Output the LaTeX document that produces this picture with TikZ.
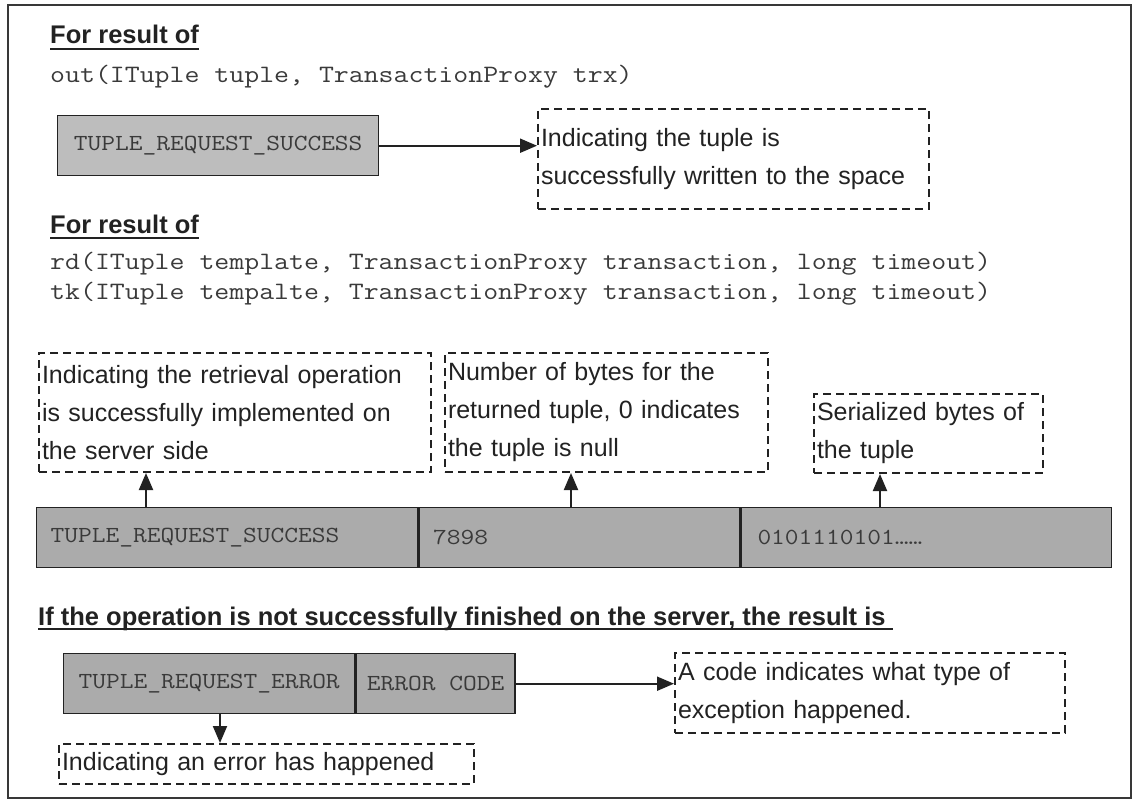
\documentclass[tikz,border=0pt]{standalone}
\usepackage{fontspec}
\setmainfont{Liberation Sans}
\newfontfamily\codefont[FakeStretch=1.16]{Latin Modern Mono}
\usetikzlibrary{arrows.meta}

\definecolor{ink}{HTML}{222222}
\definecolor{cellgray}{HTML}{ABABAB}
\definecolor{lightcell}{HTML}{BDBDBD}
\definecolor{celltext}{HTML}{3A3A3A}

\tikzset{
  head/.style={anchor=base west, inner sep=0pt, text=ink,
    font=\fontsize{25.5}{30}\selectfont\bfseries},
  uline/.style={line width=2.6pt, draw=ink},
  code/.style={anchor=west, inner sep=0pt, text=celltext,
    font=\codefont\fontsize{25}{30}\selectfont},
  cell/.style={draw=ink, line width=1.4pt, fill=cellgray, anchor=north west,
    minimum height=60pt, inner sep=0pt, text=celltext,
    font=\codefont\fontsize{23}{28}\selectfont},
  note/.style={draw=ink, line width=2pt, dash pattern=on 8pt off 5pt,
    anchor=north west, align=left, inner xsep=3pt, inner ysep=0pt, text=ink,
    font=\fontsize{25}{38}\selectfont},
  arr/.style={draw=ink, line width=2pt, -{Triangle[length=17pt,width=14pt]}},
  frame/.style={draw=ink!90, line width=2pt}
}

\begin{document}
\begin{tikzpicture}[x=1pt,y=-1pt]
\useasboundingbox[fill=white] (0,0) rectangle (1136,800);
\draw[frame] (8,5) rectangle (1131,798);

% --- first call: out(...)
\node[head] (h1) at (50,44) {For result of~};
\draw[uline] ([yshift=-5pt]h1.base west) -- ([yshift=-5pt]h1.base east);
\node[code] (o1) at (50,77) {out(ITuple tuple, TransactionProxy trx)};

\node[cell, fill=lightcell, minimum width=321pt] (g1) at (57,115) {TUPLE\_REQUEST\_SUCCESS};
\node[note, text width=385pt, minimum height=100pt] (r1) at (537,108)
  {Indicating the tuple is\\successfully written to the space};
\draw[arr] (g1.east) -- (g1.east -| r1.west);

% --- second call: rd(...) / tk(...)
\node[head] (h2) at (50,233) {For result of~};
\draw[uline] ([yshift=-5pt]h2.base west) -- ([yshift=-5pt]h2.base east);
\node[code] (o2) at (50,264) {rd(ITuple template, TransactionProxy transaction, long timeout)};
\node[code] (o3) at (50,294) {tk(ITuple tempalte, TransactionProxy transaction, long timeout)};

\node[note, text width=386pt, minimum height=119pt] (na) at (38,352)
  {Indicating the retrieval operation\\is successfully implemented on\\the server side};
\node[note, text width=317pt, minimum height=119pt] (nb) at (444,352)
  {Number of bytes for the\\returned tuple, 0 indicates\\the tuple is null};
\node[note, text width=223pt, minimum height=79pt] (nc) at (813,393)
  {Serialized bytes of\\the tuple};

\node[cell, minimum width=381pt, text width=353pt, align=left] (c1) at (36,507) {TUPLE\_REQUEST\_SUCCESS};
\node[cell, minimum width=321pt, text width=293pt, align=left] (c2) at (c1.north east) {7898};
\node[cell, minimum width=370pt, text width=338pt, align=left] (c3) at (c2.north east) {0101110101……};

\coordinate (t1) at (146,507);
\coordinate (t2) at (571,507);
\coordinate (t3) at (880,507);
\draw[arr] (t1) -- (t1 |- na.south);
\draw[arr] (t2) -- (t2 |- nb.south);
\draw[arr] (t3) -- (t3 |- nc.south);

% --- failure case
\node[head] (h3) at (38,625) {If the operation is not successfully finished on the server, the result is~~};
\draw[uline] ([yshift=-4pt]h3.base west) -- ([yshift=-4pt]h3.base east);

\node[cell, minimum width=291pt] (e1) at (63,653) {TUPLE\_REQUEST\_ERROR};
\node[cell, minimum width=159pt] (e2) at (e1.north east) {ERROR CODE};

\node[note, text width=384pt, minimum height=80pt] (nd) at (674,652)
  {A code indicates what type of\\exception happened.};
\draw[arr] (e2.east) -- (e2.east -| nd.west);

\node[note, text width=409pt, minimum height=40pt] (ne) at (58,743)
  {Indicating an error has happened};
\coordinate (t4) at (220,713);
\draw[arr] (t4) -- (t4 |- ne.north);
\end{tikzpicture}
\end{document}
